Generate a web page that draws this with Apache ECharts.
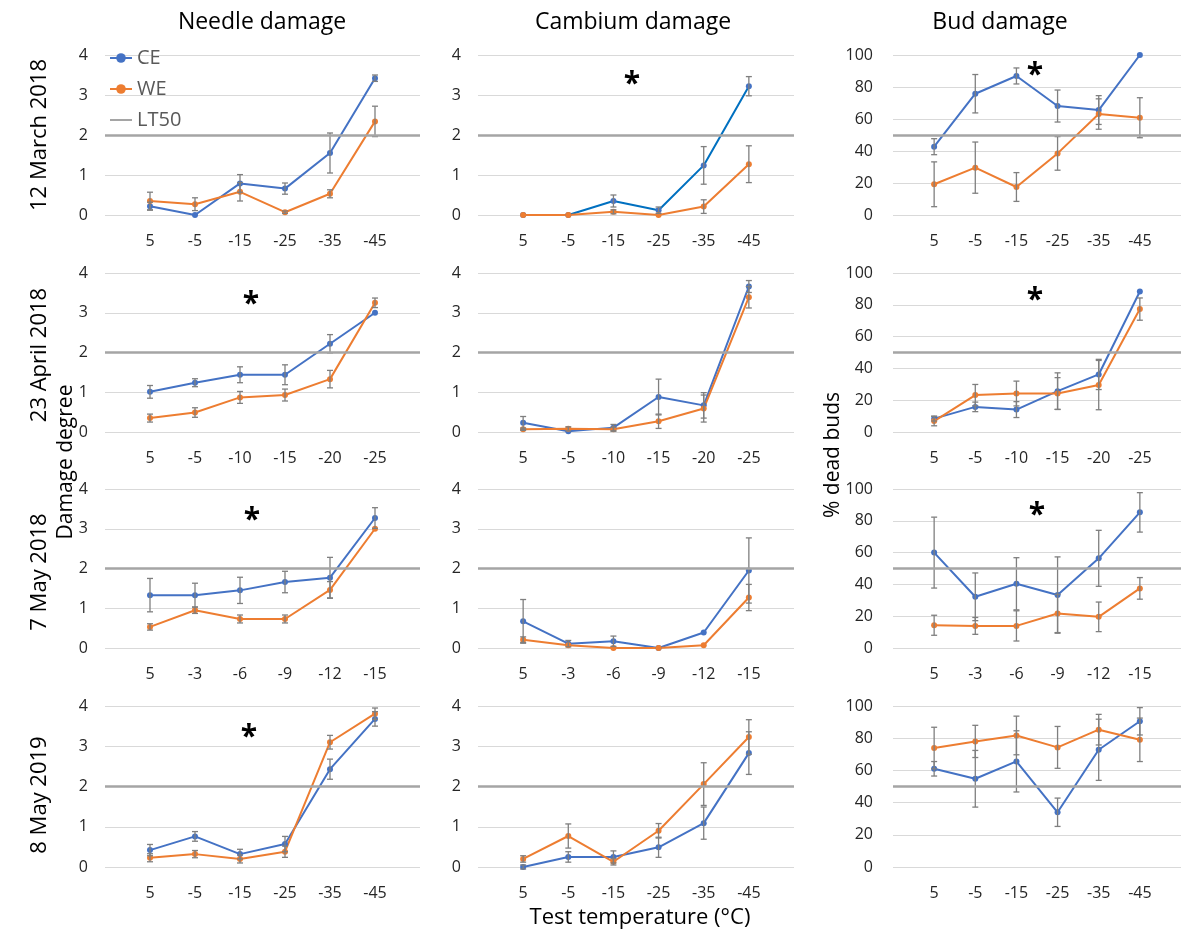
<!DOCTYPE html>
<html>
<head>
<meta charset="utf-8">
<script src="https://cdn.jsdelivr.net/npm/echarts@6/dist/echarts.min.js"></script>
<style>
  html, body { margin: 0; padding: 0; background: #fff; }
  #main { width: 1184px; height: 938px; }
</style>
</head>
<body>
<div id="main"></div>
<script>
// test temperatures per sampling date
var tempsMar18 = ['5', '-5', '-15', '-25', '-35', '-45'];
var tempsApr18 = ['5', '-5', '-10', '-15', '-20', '-25'];
var tempsMay18 = ['5', '-3', '-6', '-9', '-12', '-15'];
var tempsMay19 = ['5', '-5', '-15', '-25', '-35', '-45'];

// 12 March 2018
var needleMar18CE = [0.22, 0, 0.79, 0.66, 1.55, 3.42];
var needleMar18CEerr = [0.1, 0, 0.22, 0.14, 0.5, 0.08];
var needleMar18WE = [0.35, 0.27, 0.58, 0.07, 0.53, 2.34];
var needleMar18WEerr = [0.22, 0.16, 0.23, 0.03, 0.1, 0.38];
var cambMar18CE = [0, 0, 0.35, 0.12, 1.24, 3.22];
var cambMar18CEerr = [0, 0, 0.15, 0.08, 0.47, 0.24];
var cambMar18WE = [0, 0, 0.08, 0, 0.21, 1.27];
var cambMar18WEerr = [0, 0, 0.05, 0, 0.17, 0.46];
var budMar18CE = [42.7, 75.8, 86.9, 68.1, 65.6, 100];
var budMar18CEerr = [5, 12, 5, 10, 9, 0];
var budMar18WE = [19.2, 29.6, 17.5, 38.5, 63.1, 60.8];
var budMar18WEerr = [14, 16, 9, 10.5, 9.5, 12.5];

// 23 April 2018
var needleApr18CE = [1.01, 1.24, 1.44, 1.44, 2.22, 3.0];
var needleApr18CEerr = [0.16, 0.1, 0.2, 0.25, 0.23, 0];
var needleApr18WE = [0.35, 0.49, 0.87, 0.93, 1.33, 3.25];
var needleApr18WEerr = [0.1, 0.12, 0.15, 0.15, 0.22, 0.12];
var cambApr18CE = [0.23, 0.02, 0.11, 0.88, 0.67, 3.66];
var cambApr18CEerr = [0.16, 0, 0.08, 0.45, 0.32, 0.15];
var cambApr18WE = [0.07, 0.08, 0.07, 0.27, 0.59, 3.39];
var cambApr18WEerr = [0.03, 0.05, 0.05, 0.18, 0.34, 0.27];
var budApr18CE = [8.4, 15.8, 14.1, 25.7, 36.2, 88.4];
var budApr18CEerr = [1.5, 3, 5, 11.5, 9.5, 0];
var budApr18WE = [6.9, 23.2, 24.2, 24.2, 29.5, 77.3];
var budApr18WEerr = [3, 6.7, 7.8, 10, 15.5, 7];

// 7 May 2018
var needleMay18CE = [1.33, 1.33, 1.45, 1.66, 1.77, 3.27];
var needleMay18CEerr = [0.42, 0.3, 0.33, 0.27, 0.51, 0.26];
var needleMay18WE = [0.53, 0.95, 0.73, 0.73, 1.46, 3.0];
var needleMay18WEerr = [0.08, 0.08, 0.1, 0.1, 0.21, 0];
var cambMay18CE = [0.67, 0.11, 0.17, 0, 0.39, 1.95];
var cambMay18CEerr = [0.55, 0.08, 0.13, 0, 0, 0.82];
var cambMay18WE = [0.21, 0.07, 0, 0, 0.07, 1.27];
var cambMay18WEerr = [0.07, 0, 0, 0, 0, 0.33];
var budMay18CE = [60, 32.2, 40.4, 33.3, 56.4, 85.3];
var budMay18CEerr = [22.3, 15, 16.4, 24, 17.6, 12.4];
var budMay18WE = [14.3, 13.9, 13.9, 21.7, 19.6, 37.5];
var budMay18WEerr = [6.3, 5.3, 9.5, 12, 9.3, 6.8];

// 8 May 2019
var needleMay19CE = [0.42, 0.76, 0.32, 0.57, 2.43, 3.68];
var needleMay19CEerr = [0.14, 0.12, 0.12, 0.19, 0.25, 0.18];
var needleMay19WE = [0.23, 0.32, 0.2, 0.38, 3.1, 3.81];
var needleMay19WEerr = [0.1, 0.09, 0.1, 0.14, 0.17, 0.14];
var cambMay19CE = [0, 0.25, 0.25, 0.49, 1.09, 2.83];
var cambMay19CEerr = [0.05, 0.13, 0.15, 0.25, 0.4, 0.53];
var cambMay19WE = [0.2, 0.77, 0.13, 0.9, 2.06, 3.23];
var cambMay19WEerr = [0.08, 0.3, 0.08, 0.18, 0.53, 0.43];
var budMay19CE = [61, 54.8, 65.6, 34, 72.8, 90.5];
var budMay19CEerr = [4.5, 17.6, 19, 8.8, 19, 8.5];
var budMay19WE = [73.9, 78, 81.7, 74.3, 85.3, 79];
var budMay19WEerr = [12.9, 10, 12, 13, 9.5, 13.5];

var damageTicks = [0, 1, 2, 3, 4];
var budTicks = [0, 20, 40, 60, 80, 100];
var lt50Damage = 2;
var lt50Bud = 50;

var blue = '#4472C4';
var orange = '#ED7D31';
var font = 'Open Sans';

var panels = [
  { cats: tempsMar18, ce: needleMar18CE, ceErr: needleMar18CEerr, we: needleMar18WE, weErr: needleMar18WEerr, bud: false },
  { cats: tempsMar18, ce: cambMar18CE, ceErr: cambMar18CEerr, we: cambMar18WE, weErr: cambMar18WEerr, bud: false, ceLine: '#0070C0' },
  { cats: tempsMar18, ce: budMar18CE, ceErr: budMar18CEerr, we: budMar18WE, weErr: budMar18WEerr, bud: true },
  { cats: tempsApr18, ce: needleApr18CE, ceErr: needleApr18CEerr, we: needleApr18WE, weErr: needleApr18WEerr, bud: false },
  { cats: tempsApr18, ce: cambApr18CE, ceErr: cambApr18CEerr, we: cambApr18WE, weErr: cambApr18WEerr, bud: false },
  { cats: tempsApr18, ce: budApr18CE, ceErr: budApr18CEerr, we: budApr18WE, weErr: budApr18WEerr, bud: true },
  { cats: tempsMay18, ce: needleMay18CE, ceErr: needleMay18CEerr, we: needleMay18WE, weErr: needleMay18WEerr, bud: false },
  { cats: tempsMay18, ce: cambMay18CE, ceErr: cambMay18CEerr, we: cambMay18WE, weErr: cambMay18WEerr, bud: false },
  { cats: tempsMay18, ce: budMay18CE, ceErr: budMay18CEerr, we: budMay18WE, weErr: budMay18WEerr, bud: true },
  { cats: tempsMay19, ce: needleMay19CE, ceErr: needleMay19CEerr, we: needleMay19WE, weErr: needleMay19WEerr, bud: false },
  { cats: tempsMay19, ce: cambMay19CE, ceErr: cambMay19CEerr, we: cambMay19WE, weErr: cambMay19WEerr, bud: false },
  { cats: tempsMay19, ce: budMay19CE, ceErr: budMay19CEerr, we: budMay19WE, weErr: budMay19WEerr, bud: true }
];

// grid boxes (x range covers one slot either side of the 6 temperatures)
var colLeft = [105, 478, 893];
var colWidth = [315, 316, 296];
var rowTop = [55, 273, 489, 706];
var rowHeight = [160, 159, 159, 161];

function renderErr(params, api) {
  var x = api.value(0);
  var lo = api.coord([x, api.value(1)]);
  var hi = api.coord([x, api.value(2)]);
  if (Math.abs(hi[1] - lo[1]) < 1) return null;
  var c = 3;
  var st = { stroke: '#7f7f7f', lineWidth: 1.3 };
  return {
    type: 'group',
    children: [
      { type: 'line', shape: { x1: lo[0], y1: lo[1], x2: hi[0], y2: hi[1] }, style: st },
      { type: 'line', shape: { x1: lo[0] - c, y1: lo[1], x2: lo[0] + c, y2: lo[1] }, style: st },
      { type: 'line', shape: { x1: hi[0] - c, y1: hi[1], x2: hi[0] + c, y2: hi[1] }, style: st }
    ]
  };
}

var grids = [], xAxes = [], yAxes = [], series = [];
panels.forEach(function (p, i) {
  var r = Math.floor(i / 3), c = i % 3;
  grids.push({ left: colLeft[c], top: rowTop[r], width: colWidth[c], height: rowHeight[r] });
  xAxes.push({
    type: 'value', gridIndex: i, min: -1, max: 6, interval: 1,
    axisLine: { show: false }, axisTick: { show: false }, splitLine: { show: false },
    axisLabel: {
      margin: 18, fontSize: 16, fontFamily: font, color: '#262626',
      formatter: (function (cats) { return function (v) { return cats[v] || ''; }; })(p.cats)
    }
  });
  var ticks = p.bud ? budTicks : damageTicks;
  yAxes.push({
    type: 'value', gridIndex: i, min: ticks[0], max: ticks[ticks.length - 1], interval: ticks[1] - ticks[0],
    axisLine: { show: false }, axisTick: { show: false },
    splitLine: { lineStyle: { color: '#d9d9d9', width: 1 } },
    axisLabel: { margin: p.bud ? 20 : 17, fontSize: 16, fontFamily: font, color: '#262626' }
  });
  series.push({
    name: 'LT50', type: 'line', xAxisIndex: i, yAxisIndex: i, data: [], symbol: 'none',
    lineStyle: { color: '#a5a5a5', width: 2.5 }, itemStyle: { color: '#a5a5a5' }, z: 1,
    markLine: {
      silent: true, symbol: 'none', label: { show: false }, animation: false,
      lineStyle: { color: '#a5a5a5', width: 2.5, type: 'solid' },
      data: [{ yAxis: p.bud ? lt50Bud : lt50Damage }]
    }
  });
  [['CE', p.ce, p.ceErr, blue, p.ceLine || blue], ['WE', p.we, p.weErr, orange, orange]].forEach(function (s) {
    series.push({
      name: s[0], type: 'line', xAxisIndex: i, yAxisIndex: i, z: 3,
      data: s[1].map(function (v, k) { return [k, v]; }),
      symbol: 'circle', symbolSize: 6, animation: false,
      itemStyle: { color: s[3] }, lineStyle: { color: s[4], width: 2 }
    });
    series.push({
      name: s[0] + ' err', type: 'custom', xAxisIndex: i, yAxisIndex: i, z: 4,
      renderItem: renderErr, animation: false, silent: true,
      encode: { x: 0, y: [1, 2] },
      data: s[1].map(function (v, k) { return [k, v - s[2][k], v + s[2][k]]; })
    });
  });
});

function txt(x, y, s, size, opts) {
  opts = opts || {};
  return {
    type: 'text', x: x, y: y, rotation: opts.rot || 0, z: 10,
    style: {
      text: s, fontSize: size, fontFamily: font, fontWeight: opts.bold ? 'bold' : 'normal',
      fill: opts.color || '#000', align: 'center', verticalAlign: 'middle'
    }
  };
}

var graphics = [
  txt(262, 22, 'Needle damage', 23),
  txt(633, 22, 'Cambium damage', 23),
  txt(1000, 22, 'Bud damage', 23),
  txt(640, 918, 'Test temperature (°C)', 22),
  txt(40, 135, '12 March 2018', 22, { rot: Math.PI / 2 }),
  txt(40, 355, '23 April 2018', 22, { rot: Math.PI / 2 }),
  txt(40, 572, '7 May 2018', 22, { rot: Math.PI / 2 }),
  txt(40, 795, '8 May 2019', 22, { rot: Math.PI / 2 }),
  txt(66, 462, 'Damage degree', 21, { rot: Math.PI / 2 }),
  txt(833, 455, '% dead buds', 21, { rot: Math.PI / 2 }),
  txt(632, 84, '*', 30, { bold: true }),
  txt(1035, 75, '*', 30, { bold: true }),
  txt(251, 304, '*', 30, { bold: true }),
  txt(1035, 300, '*', 30, { bold: true }),
  txt(252, 520, '*', 30, { bold: true }),
  txt(1037, 515, '*', 30, { bold: true }),
  txt(249, 737, '*', 30, { bold: true })
];

var myChart = echarts.init(document.getElementById('main'));
var option = {
  backgroundColor: '#fff',
  animation: false,
  textStyle: { fontFamily: font },
  legend: {
    data: ['CE', 'WE', { name: 'LT50', itemStyle: { opacity: 0 } }],
    orient: 'vertical', left: 104, top: 43,
    itemWidth: 22, itemHeight: 12, itemGap: 11,
    textStyle: { fontSize: 20, color: '#595959', fontFamily: font },
    selectedMode: false
  },
  grid: grids,
  xAxis: xAxes,
  yAxis: yAxes,
  series: series,
  graphic: graphics
};
myChart.setOption(option);
</script>
</body>
</html>
